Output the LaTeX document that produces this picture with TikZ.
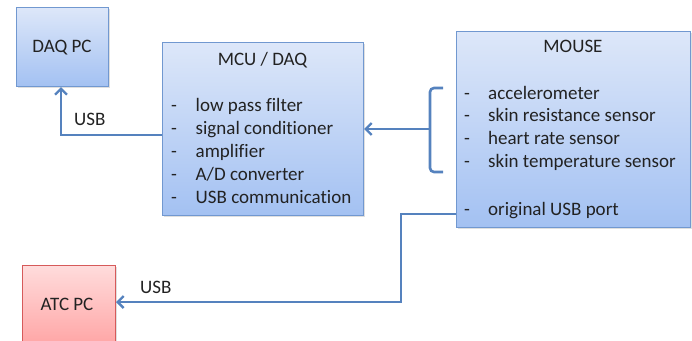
\documentclass[tikz,border=0pt]{standalone}
\usepackage{fontspec}
\setmainfont{Carlito}[Ligatures=NoCommon]
\usetikzlibrary{arrows.meta,shadows}
\definecolor{boxtop}{HTML}{DDE7F9}
\definecolor{boxbot}{HTML}{A3C1F2}
\definecolor{boxline}{HTML}{7198D0}
\definecolor{redtop}{HTML}{FFDCDC}
\definecolor{redbot}{HTML}{FF9E9E}
\definecolor{redline}{HTML}{D65A5A}
\definecolor{wire}{HTML}{5582BE}
\definecolor{ink}{HTML}{222222}
\tikzset{
  x=1pt, y=-1pt,
  blockbase/.style={draw, line width=1pt, anchor=north west, inner sep=0pt,
    drop shadow={opacity=0.25, shadow xshift=1.5pt, shadow yshift=-1.5pt}},
  bluebox/.style={blockbase, draw=boxline, top color=boxtop, bottom color=boxbot},
  redbox/.style={blockbase, draw=redline, top color=redtop, bottom color=redbot},
  txt/.style={font=\fontsize{19}{23}\selectfont, text=ink, inner sep=0pt, anchor=base},
  item/.style={txt, anchor=base west},
  wireline/.style={draw=wire, line width=2.6pt},
  wirearrow/.style={wireline, -{Straight Barb[length=6pt,width=12pt,line width=2.4pt]}},
}
\begin{document}
\begin{tikzpicture}
\useasboundingbox (0,0) rectangle (692,340);
\clip (0,0) rectangle (692,340);

% boxes
\node[bluebox, minimum width=92pt, minimum height=79pt] (daq) at (16,7) {};
\node[bluebox, minimum width=201pt, minimum height=173pt] (mcu) at (162,42) {};
\node[bluebox, minimum width=234pt, minimum height=196pt] (mouse) at (456,31) {};
\node[redbox, minimum width=93pt, minimum height=90pt] (atc) at (22,265) {};

% box texts
\node[txt] (daqt) at (62,52.5) {DAQ PC};
\node[txt] (atct) at (67,310) {ATC PC};
\node[txt] (mcut) at (262.5,65.5) {MCU / DAQ};
\node[txt] (mouset) at (573,52.3) {MOUSE};

\foreach \t [count=\i] in {low pass filter, signal conditioner, amplifier, A/D converter, USB communication}{
  \node[item] (mcud\i) at (171,{88+23*\i}) {-};
  \node[item] (mcui\i) at (195.5,{88+23*\i}) {\t};
}
\foreach \t [count=\i] in {accelerometer, skin resistance sensor, heart rate sensor, skin temperature sensor}{
  \node[item] (msd\i) at (464,{76.3+22.8*\i}) {-};
  \node[item] (msi\i) at (488,{76.3+22.8*\i}) {\t};
}
\node[item] (usbd) at (464,215) {-};
\node[item] (usbi) at (488,215) {original USB port};

% MCU -> DAQ PC
\coordinate (daqbend) at (61,135);
\draw[wirearrow] (mcu.west |- daqbend) -- (daqbend) -- (daq.south -| daqbend);
\node[item] (usb1) at (74,125) {USB};

% sensor group bracket -> MCU
\coordinate (brtop) at (443,88);
\coordinate (brbot) at (443,172);
\coordinate (brmid) at (430,129);
\draw[wireline, rounded corners=4pt] (brtop) -- (430,88) -- (430,172) -- (brbot);
\draw[wirearrow] (brmid) -- (mcu.east |- brmid);

% MOUSE USB port -> ATC PC
\coordinate (atcbend1) at (401,214);
\coordinate (atcbend2) at (401,302);
\draw[wirearrow] (mouse.west |- atcbend1) -- (atcbend1) -- (atcbend2) -- (atc.east |- atcbend2);
\node[item] (usb2) at (140,293) {USB};
\end{tikzpicture}
\end{document}
